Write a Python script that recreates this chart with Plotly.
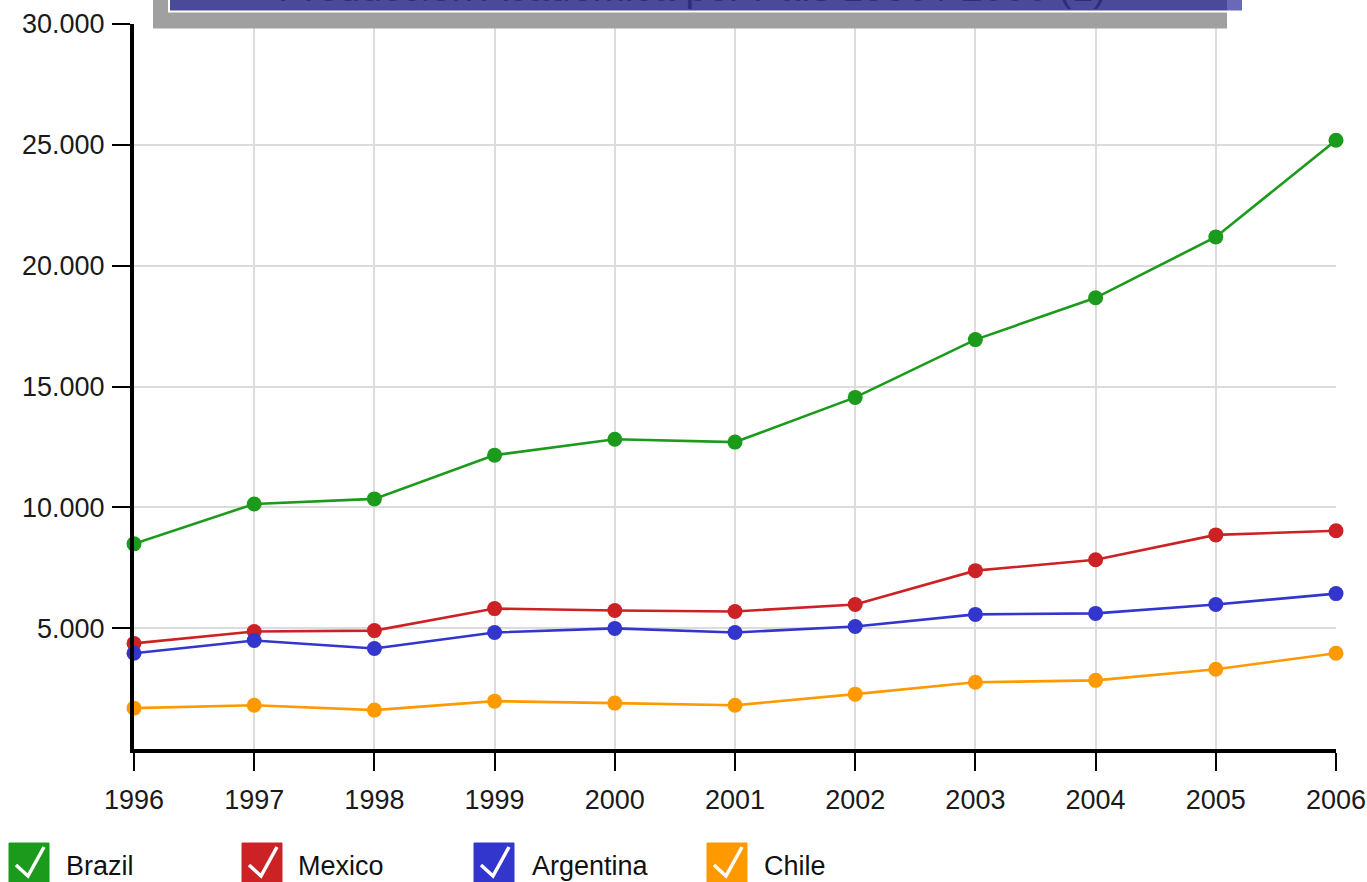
import plotly.graph_objects as go

# ---------------- data ----------------
years = [1996, 1997, 1998, 1999, 2000, 2001, 2002, 2003, 2004, 2005, 2006]
brazil = [8490, 10140, 10350, 12160, 12820, 12700, 14550, 16940, 18670, 21190, 25190]
mexico = [4370, 4860, 4900, 5810, 5730, 5690, 5980, 7380, 7830, 8860, 9030]
argentina = [3960, 4490, 4160, 4820, 4990, 4820, 5070, 5570, 5610, 5980, 6430]
chile = [1690, 1810, 1610, 1980, 1900, 1810, 2270, 2760, 2840, 3300, 3960]

series_names = ["Brazil", "Mexico", "Argentina", "Chile"]
series_values = [brazil, mexico, argentina, chile]
series_colors = ["#1c9a1c", "#cc2226", "#3236cc", "#ff9900"]

y_tick_vals = [5000, 10000, 15000, 20000, 25000, 30000]
y_tick_text = ["5.000", "10.000", "15.000", "20.000", "25.000", "30.000"]
x_tick_text = [str(y) for y in years]

title_text = "Producción Académica por País 1996 / 2006 (1)"

# ---------------- layout geometry (pixels) ----------------
W, H = 1367, 882
L, R, T, B = 134, 1336, 24, 749
FONT = "Arial, Liberation Sans, sans-serif"


def px(x):
    return (x - L) / (R - L)


def py(y):
    return (B - y) / (B - T)


fig = go.Figure()
for name, vals, col in zip(series_names, series_values, series_colors):
    fig.add_trace(go.Scatter(
        x=years, y=vals, name=name, mode="lines+markers",
        line=dict(color=col, width=2.6),
        marker=dict(color=col, size=15),
        cliponaxis=False, showlegend=False,
    ))

shapes = []
# title box shadow and box
shapes.append(dict(type="rect", xref="paper", yref="paper",
                   x0=px(153), x1=px(1227), y0=py(28.5), y1=py(-40),
                   fillcolor="#a0a0a0", line=dict(width=0), layer="above"))
shapes.append(dict(type="rect", xref="paper", yref="paper",
                   x0=px(169), x1=px(1242), y0=py(11.5), y1=py(-40),
                   fillcolor="rgb(34,34,150)", opacity=0.68,
                   line=dict(width=0), layer="above"))
shapes.append(dict(type="path", xref="paper", yref="paper",
                   path=f"M {px(169)},{py(-40)} L {px(169)},{py(11.5)} L {px(1242)},{py(11.5)}",
                   line=dict(color="white", width=2), layer="above"))

annotations = [dict(
    text=title_text, xref="paper", yref="paper",
    x=px(276), y=py(-13), xanchor="left", yanchor="middle",
    showarrow=False, font=dict(family=FONT, size=39, color="#2e2e78"),
)]

# custom legend with check boxes
leg_box_x = [9, 242, 474, 707]
leg_text_x = [64, 296, 530, 762]
for name, col, bx, tx in zip(series_names, series_colors, leg_box_x, leg_text_x):
    shapes.append(dict(type="rect", xref="paper", yref="paper",
                       x0=px(bx), x1=px(bx + 40), y0=py(884), y1=py(843),
                       fillcolor=col, line=dict(color=col, width=1), layer="above"))
    shapes.append(dict(type="path", xref="paper", yref="paper",
                       path=(f"M {px(bx + 7)},{py(865)} L {px(bx + 19)},{py(876)} "
                             f"L {px(bx + 35)},{py(847)}"),
                       line=dict(color="white", width=3.5), layer="above"))
    annotations.append(dict(
        text=name, xref="paper", yref="paper", x=px(tx), y=py(866),
        xanchor="left", yanchor="middle", showarrow=False,
        font=dict(family=FONT, size=27, color="#111111"),
    ))

fig.update_layout(
    width=W, height=H,
    margin=dict(l=L, r=W - R, t=T, b=H - B, pad=0, autoexpand=False),
    plot_bgcolor="white", paper_bgcolor="white",
    font=dict(family=FONT, size=27, color="#1a1a1a"),
    shapes=shapes, annotations=annotations, showlegend=False,
)
fig.update_xaxes(
    range=[1996, 2006], tickvals=years, ticktext=x_tick_text,
    showgrid=True, gridcolor="#dcdcdc", gridwidth=2,
    showline=True, linecolor="black", linewidth=4,
    ticks="outside", ticklen=18, tickwidth=2, tickcolor="black",
    ticklabelstandoff=6, zeroline=False, automargin=False,
)
fig.update_yaxes(
    range=[0, 30000], tickvals=y_tick_vals, ticktext=y_tick_text,
    showgrid=True, gridcolor="#dcdcdc", gridwidth=2,
    showline=True, linecolor="black", linewidth=4,
    ticks="outside", ticklen=18, tickwidth=2, tickcolor="black",
    ticklabelstandoff=2, zeroline=False, automargin=False,
)

fig.write_html(
    "out.html",
    config={"displayModeBar": False},
    post_script="document.body.style.margin='0';document.body.style.overflow='hidden';",
)
